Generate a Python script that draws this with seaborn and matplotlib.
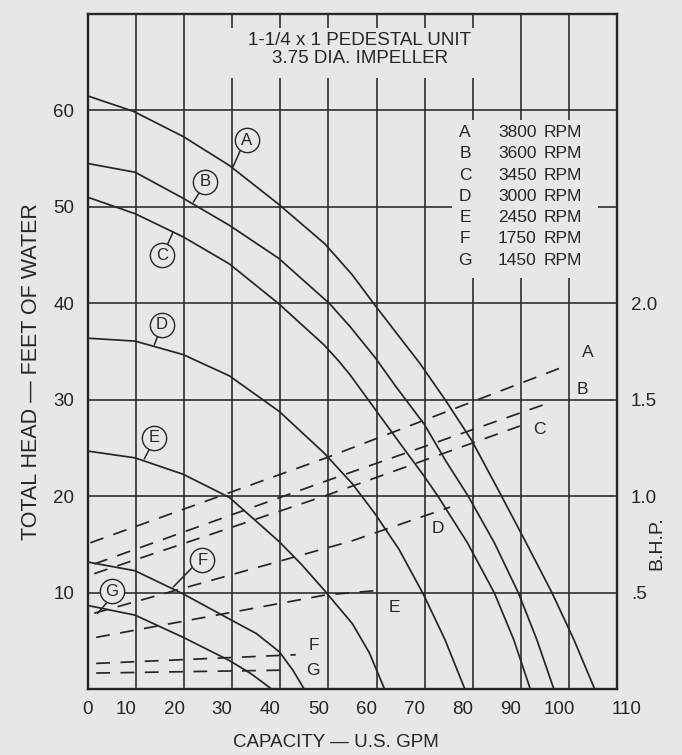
import matplotlib
matplotlib.use("Agg")
import matplotlib.pyplot as plt
import matplotlib.transforms as mtransforms
import numpy as np
import pandas as pd
import seaborn as sns

# ---------------- data ----------------
curve_ids = ["A", "B", "C", "D", "E", "F", "G"]
rpm = [3800, 3600, 3450, 3000, 2450, 1750, 1450]

# Head-capacity curves (U.S. GPM, feet of water)
gpm_A = [0, 9.5, 19.8, 29.4, 39.6, 49.2, 54.9, 59.7, 69.0, 74.3, 79.8, 85.5, 91.0, 96.5, 101.0, 105.4]
head_A = [61.5, 59.9, 57.3, 54.3, 50.3, 46.2, 43.0, 39.8, 33.8, 30.0, 25.8, 20.5, 15.3, 10.0, 5.2, 0.0]
gpm_B = [0, 9.8, 19.8, 29.4, 39.6, 50.2, 54.5, 59.7, 64.0, 69.9, 74.5, 79.1, 84.5, 89.5, 93.3, 96.9]
head_B = [54.5, 53.6, 50.9, 48.1, 44.7, 40.0, 37.6, 34.4, 31.4, 27.5, 23.6, 20.0, 15.2, 10.0, 5.2, 0.0]
gpm_C = [0, 9.8, 19.8, 29.4, 39.6, 49.1, 52.2, 54.5, 58.3, 64.0, 69.9, 72.8, 78.9, 84.5, 88.5, 92.0]
head_C = [51.0, 49.3, 46.9, 44.1, 40.0, 35.7, 34.0, 32.6, 30.0, 26.1, 22.1, 20.0, 15.2, 10.0, 5.2, 0.0]
gpm_D = [0, 9.8, 19.8, 29.4, 39.8, 49.1, 55.0, 59.7, 64.7, 69.7, 74.2, 78.4]
head_D = [36.4, 36.1, 34.7, 32.5, 28.8, 24.5, 21.3, 18.2, 14.5, 9.9, 5.2, 0.0]
gpm_E = [0, 9.8, 19.8, 29.4, 39.8, 44.5, 49.1, 55.0, 58.5, 61.7]
head_E = [24.7, 24.0, 22.3, 19.9, 15.3, 12.9, 10.3, 6.8, 3.8, 0.0]
gpm_F = [0, 9.8, 19.8, 29.4, 35.0, 39.8, 42.6, 45.0]
head_F = [13.2, 12.3, 9.9, 7.3, 5.8, 3.9, 2.0, 0.0]
gpm_G = [0, 9.8, 19.8, 29.4, 34.0, 38.3]
head_G = [8.7, 7.7, 5.4, 3.0, 1.6, 0.0]

# Brake horsepower curves (dashed, right axis)
bhp_gpm_A = [0.5, 49.5, 99.2]
bhp_A = [0.76, 1.20, 1.675]
bhp_gpm_B = [1.3, 49.5, 94.7]
bhp_B = [0.65, 1.08, 1.475]
bhp_gpm_C = [1.3, 49.5, 89.8]
bhp_C = [0.60, 1.005, 1.365]
bhp_gpm_D = [1.3, 54.9, 75.3]
bhp_D = [0.395, 0.77, 0.945]
bhp_gpm_E = [1.7, 49.5, 61.1]
bhp_E = [0.27, 0.49, 0.515]
bhp_gpm_F = [1.7, 43.2]
bhp_F = [0.135, 0.18]
bhp_gpm_G = [1.7, 40.5]
bhp_G = [0.085, 0.10]

x_ticks = [0, 10, 20, 30, 40, 50, 60, 70, 80, 90, 100, 110]
y_ticks = [10, 20, 30, 40, 50, 60]
bhp_ticks = [0.5, 1.0, 1.5, 2.0]
bhp_tick_labels = [".5", "1.0", "1.5", "2.0"]

title_lines = ["1-1/4 x 1 PEDESTAL UNIT", "3.75 DIA. IMPELLER"]

# ---------------- tidy tables ----------------
head_x = [gpm_A, gpm_B, gpm_C, gpm_D, gpm_E, gpm_F, gpm_G]
head_y = [head_A, head_B, head_C, head_D, head_E, head_F, head_G]
bhp_x = [bhp_gpm_A, bhp_gpm_B, bhp_gpm_C, bhp_gpm_D, bhp_gpm_E, bhp_gpm_F, bhp_gpm_G]
bhp_y = [bhp_A, bhp_B, bhp_C, bhp_D, bhp_E, bhp_F, bhp_G]

head_df = pd.concat(
    [pd.DataFrame({"curve": c, "gpm": xs, "head": ys}) for c, xs, ys in zip(curve_ids, head_x, head_y)],
    ignore_index=True)
bhp_df = pd.concat(
    [pd.DataFrame({"curve": c, "gpm": xs, "bhp": ys}) for c, xs, ys in zip(curve_ids, bhp_x, bhp_y)],
    ignore_index=True)

# ---------------- style ----------------
BG = "#e7e7e4"
INK = "#262626"
sns.set_theme(style="white")
plt.rcParams["font.family"] = ["Liberation Sans", "DejaVu Sans"]
plt.rcParams["text.color"] = INK
plt.rcParams["axes.labelcolor"] = INK
plt.rcParams["xtick.color"] = INK
plt.rcParams["ytick.color"] = INK

fig = plt.figure(figsize=(6.82, 7.55), dpi=100, facecolor=BG)
ax = fig.add_axes([0.129, 0.0868, 0.7757, 0.8947])
ax.set_facecolor(BG)

ax.set_xlim(0, 110)
ax.set_ylim(0, 70)
ax.set_xticks(x_ticks)
ax.set_yticks(y_ticks)
ax.tick_params(axis="both", length=0, labelsize=13.5)
ax.tick_params(axis="x", pad=8)
ax.tick_params(axis="y", pad=10)
ax.set_axisbelow(True)
ax.grid(True, color=INK, lw=1.15)
for s in ax.spines.values():
    s.set_color(INK)
    s.set_linewidth(1.7)

# printed x labels sit slightly left of their grid lines (last one to the right)
for v, lab in zip(x_ticks, ax.get_xticklabels()):
    dx = 0 if v == 0 else (10 if v == 110 else -10)
    lab.set_transform(lab.get_transform() + mtransforms.ScaledTranslation(dx / 100, 0, fig.dpi_scale_trans))

# masks behind the title and the speed table
ax.add_patch(plt.Rectangle((23.3, 63.4), 62.3, 5.1, facecolor=BG, edgecolor="none", zorder=1))
ax.add_patch(plt.Rectangle((75.7, 42.6), 30.3, 16.4, facecolor=BG, edgecolor="none", zorder=1))

sns.lineplot(data=head_df, x="gpm", y="head", units="curve", estimator=None, sort=False,
             color=INK, lw=1.25, ax=ax, legend=False, zorder=3)

ax.set_xlabel("CAPACITY — U.S. GPM", fontsize=13.5)
ax.xaxis.set_label_coords(0.469, -0.078)
ax.xaxis.label.set_va("center")
ax.set_ylabel("TOTAL HEAD — FEET OF WATER", fontsize=15.5)
ax.yaxis.set_label_coords(-0.106, 0.47)
ax.yaxis.label.set_va("center")

# BHP axis
ax2 = ax.twinx()
ax2.set_ylim(0, 3.5)
sns.lineplot(data=bhp_df, x="gpm", y="bhp", units="curve", estimator=None, sort=False,
             color=INK, lw=1.25, linestyle=(0, (8, 6)), ax=ax2, legend=False)
ax2.set_yticks(bhp_ticks)
ax2.set_yticklabels(bhp_tick_labels)
ax2.tick_params(axis="y", length=0, labelsize=13.5, pad=10)
ax2.set_ylabel("B.H.P.", fontsize=14)
ax2.yaxis.set_label_coords(1.075, 0.217)
ax2.yaxis.label.set_va("center")
ax2.grid(False)
for s in ax2.spines.values():
    s.set_visible(False)

# title
ax.text(56.5, 67.3, title_lines[0], ha="center", va="center", fontsize=13.5, zorder=4)
ax.text(56.5, 65.4, title_lines[1], ha="center", va="center", fontsize=13.5, zorder=4)

# speed table
for i, (c, r) in enumerate(zip(curve_ids, rpm)):
    yy = 57.7 - i * 2.2
    ax.text(78.4, yy, c, ha="center", va="center", fontsize=12.5, zorder=4)
    ax.text(93.3, yy, f"{r}", ha="right", va="center", fontsize=12.5, zorder=4)
    ax.text(94.8, yy, "RPM", ha="left", va="center", fontsize=12.5, zorder=4)

# circled curve labels with leaders: (circle centre, leader start on curve, leader end)
circ = {
    "A": ((33.0, 56.9), (30.1, 54.1), (31.8, 56.0)),
    "B": ((24.4, 52.6), (21.9, 50.5), (23.3, 51.6)),
    "C": ((15.4, 45.0), (17.7, 47.4), (16.6, 46.2)),
    "D": ((15.4, 37.8), (13.8, 35.7), (14.6, 36.8)),
    "E": ((13.8, 26.1), (11.7, 23.9), (12.9, 25.0)),
    "F": ((23.8, 13.4), (17.7, 10.6), (21.8, 12.7)),
    "G": ((5.0, 10.2), (2.0, 7.9), (4.1, 9.1)),
}
for c, (cen, p0, p1) in circ.items():
    ax.plot([p0[0], p1[0]], [p0[1], p1[1]], color=INK, lw=1.1, zorder=4)
    ax.plot([cen[0]], [cen[1]], marker="o", ms=17.5, mfc=BG, mec=INK, mew=1.0, zorder=5)
    ax.text(cen[0], cen[1], c, ha="center", va="center", fontsize=12, zorder=6)

# end labels for the BHP curves
end_lab = {"A": (104.0, 34.9), "B": (102.9, 31.1), "C": (93.9, 26.9), "D": (72.8, 16.7),
           "E": (63.8, 8.5), "F": (47.0, 4.6), "G": (46.7, 2.0)}
for c, (xx, yy) in end_lab.items():
    ax.text(xx, yy, c, ha="center", va="center", fontsize=12.5, zorder=4)

fig.savefig("out.png", dpi=100, facecolor=BG)
